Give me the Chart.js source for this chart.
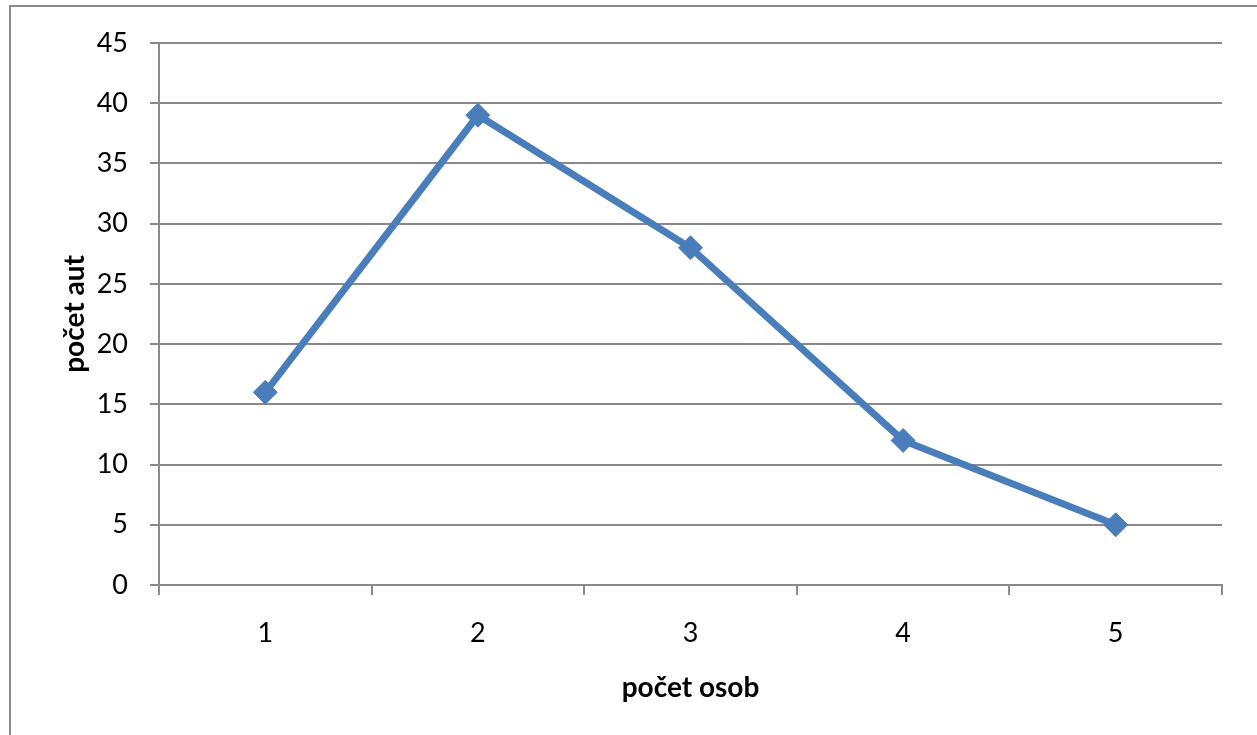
<!DOCTYPE html>
<html>
<head>
<meta charset="utf-8">
<script src="https://cdn.jsdelivr.net/npm/chart.js@4.4.1/dist/chart.umd.min.js"></script>
<style>
  html, body { margin: 0; padding: 0; background: #fff; overflow: hidden; }
  #wrap { position: relative; width: 1257px; height: 735px; }
  #frame { position: absolute; left: 9px; top: 5px; width: 1400px; height: 900px; border: 2px solid #8a8a8a; box-sizing: border-box; }
  canvas { position: absolute; left: 0; top: 0; }
</style>
</head>
<body>
<div id="wrap">
  <div id="frame"></div>
  <canvas id="c" width="1257" height="735"></canvas>
</div>
<script>
// Number of persons per car vs. number of cars
const categories = ['1', '2', '3', '4', '5'];
const carCounts = [16, 39, 28, 12, 5];
const yTicks = [0, 5, 10, 15, 20, 25, 30, 35, 40, 45];

const xTitle = 'počet osob';
const yTitle = 'počet aut';

const FONT = 'Lato, "Open Sans", "DejaVu Sans", sans-serif';
const GRID = '#8a8a8a';
const LINE = '#4a7ebb';

new Chart(document.getElementById('c'), {
  type: 'line',
  data: {
    labels: categories,
    datasets: [{
      data: carCounts,
      borderColor: LINE,
      backgroundColor: LINE,
      borderWidth: 7,
      pointStyle: 'rectRot',
      pointRadius: 12,
      pointBorderWidth: 1,
      pointBorderColor: LINE,
      pointBackgroundColor: LINE,
      tension: 0,
      fill: false
    }]
  },
  options: {
    responsive: false,
    animation: false,
    layout: { padding: { left: 0, top: 43, right: 35, bottom: 0 } },
    plugins: { legend: { display: false }, tooltip: { enabled: false } },
    scales: {
      x: {
        type: 'category',
        offset: true,
        grid: {
          offset: true,
          drawOnChartArea: false,
          drawTicks: true,
          tickLength: 10,
          color: GRID,
          lineWidth: 2
        },
        border: { display: true, color: GRID, width: 2 },
        ticks: { color: '#000', font: { family: FONT, size: 27 }, padding: 22 },
        title: {
          display: true,
          text: xTitle,
          color: '#000',
          font: { family: FONT, size: 28, weight: 'bold' },
          padding: { top: 0, bottom: 30 }
        },
        afterFit(scale) { scale.height = 150; }
      },
      y: {
        min: 0,
        max: 45,
        afterBuildTicks(scale) { scale.ticks = yTicks.map(v => ({ value: v })); },
        grid: {
          color: GRID,
          lineWidth: 2,
          drawTicks: true,
          tickLength: 9
        },
        border: { display: true, color: GRID, width: 2 },
        ticks: { color: '#000', font: { family: FONT, size: 27 }, padding: 22 },
        title: {
          display: true,
          text: yTitle,
          color: '#000',
          font: { family: FONT, size: 28, weight: 'bold' },
          padding: { top: 58, bottom: 0 }
        },
        afterFit(scale) { scale.width = 159; }
      }
    }
  }
});
</script>
</body>
</html>
